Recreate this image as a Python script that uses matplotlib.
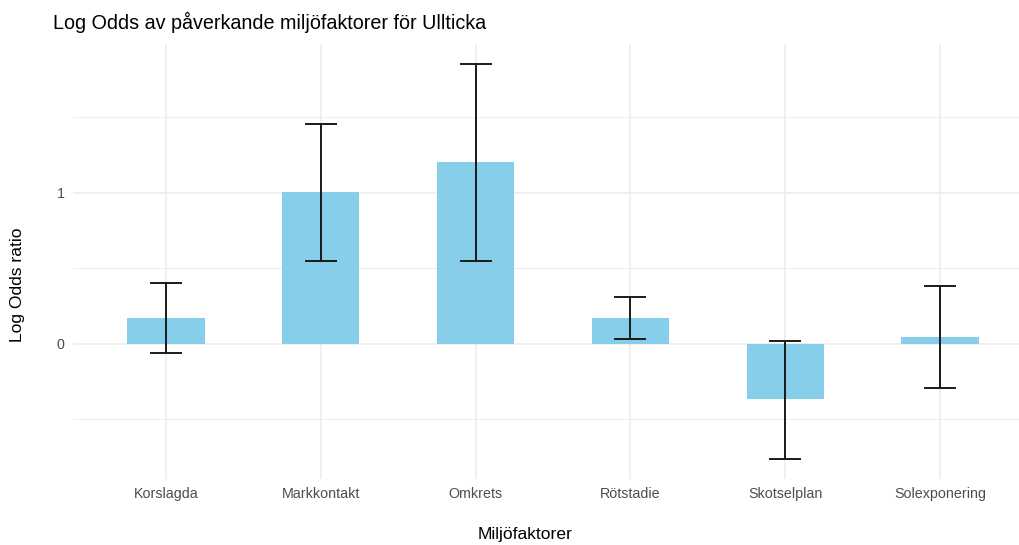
import matplotlib.pyplot as plt
import numpy as np
from matplotlib.ticker import FixedLocator

plt.rcParams['font.family'] = ['Liberation Sans', 'DejaVu Sans']

# log odds per factor with lower/upper confidence bounds
faktorer = ['Korslagda', 'Markkontakt', 'Omkrets', 'Rötstadie', 'Skotselplan', 'Solexponering']
log_odds = [0.172, 1.007, 1.205, 0.172, -0.364, 0.046]
nedre = [-0.06, 0.55, 0.55, 0.033, -0.76, -0.29]
ovre = [0.404, 1.457, 1.854, 0.311, 0.02, 0.384]

fig = plt.figure(figsize=(10.19, 5.45), dpi=100)
W, H = 1019, 545
left, right, top, bottom = 73, 1033, 44, 478.5
ax = fig.add_axes([left / W, 1 - bottom / H, (right - left) / W, (bottom - top) / H])

x = np.arange(1, len(faktorer) + 1)
ax.bar(x, log_odds, width=0.5, color='#87CEEB', zorder=2)
lo = np.array(log_odds) - np.array(nedre)
hi = np.array(ovre) - np.array(log_odds)
ax.errorbar(x, log_odds, yerr=[lo, hi], fmt='none', ecolor='#1a1a1a',
            elinewidth=1.4, capsize=11.2, capthick=1.4, zorder=3)

ax.set_xlim(0.4, 6.6)
ax.set_ylim(-0.891, 1.985)
ax.set_xticks(x)
ax.set_xticklabels(faktorer)
ax.set_yticks([0, 1])
ax.set_yticklabels(['0', '1'])
ax.yaxis.set_minor_locator(FixedLocator([-0.5, 0.5, 1.5]))

ax.grid(True, which='major', color='#EBEBEB', linewidth=1.1, zorder=0)
ax.grid(True, which='minor', axis='y', color='#EBEBEB', linewidth=0.6, zorder=0)
for s in ax.spines.values():
    s.set_visible(False)
ax.tick_params(which='both', length=0, colors='#4D4D4D', labelsize=10.3)
ax.tick_params(axis='x', pad=6)
ax.tick_params(axis='y', pad=6)
ax.set_axisbelow(True)

# axis titles placed in pixel terms, converted to axes fractions
ax.set_xlabel('Miljöfaktorer', fontsize=12.6)
ax.set_ylabel('Log Odds ratio', fontsize=12.6)
ax.xaxis.set_label_coords((525 - left) / (right - left), -(535 - bottom) / (bottom - top))
ax.xaxis.label.set_va('center')
ax.yaxis.set_label_coords(-(left - 18) / (right - left), (bottom - 285) / (bottom - top))
ax.yaxis.label.set_va('center')
fig.text(53 / W, 1 - 22 / H, 'Log Odds av påverkande miljöfaktorer för Ullticka',
         fontsize=14.2, va='center', ha='left')

fig.savefig('out.png', dpi=100, facecolor='white')
